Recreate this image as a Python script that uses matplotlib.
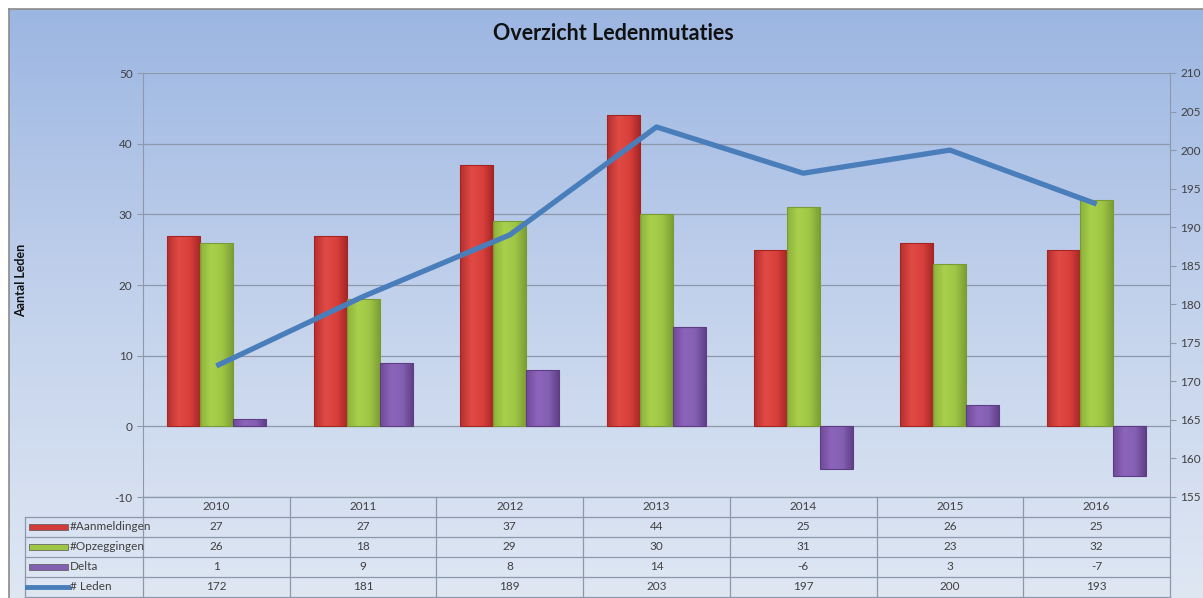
import numpy as np
import matplotlib.pyplot as plt
from matplotlib.colors import LinearSegmentedColormap
from matplotlib.patches import Rectangle
from matplotlib.lines import Line2D
from matplotlib.transforms import blended_transform_factory

plt.rcParams['font.family'] = ['Lato', 'DejaVu Sans']
plt.rcParams['axes.unicode_minus'] = False

years = ['2010', '2011', '2012', '2013', '2014', '2015', '2016']
aanmeldingen = [27, 27, 37, 44, 25, 26, 25]
opzeggingen = [26, 18, 29, 30, 31, 23, 32]
delta = [1, 9, 8, 14, -6, 3, -7]
leden = [172, 181, 189, 203, 197, 200, 193]

series_names = ['#Aanmeldingen', '#Opzeggingen', 'Delta', '# Leden']

W, H = 1203, 598
def fx(px):
    return px / W
def fy(py):
    return 1 - py / H

fig = plt.figure(figsize=(W / 100, H / 100), dpi=100)
fig.patch.set_facecolor('white')

# gradient background of the chart area
bg = fig.add_axes([fx(9), 0, 1 - fx(9), fy(9)])
grad = np.linspace(0, 1, 256).reshape(-1, 1)
bg_cmap = LinearSegmentedColormap.from_list('bg', ['#9cb6e2', '#c3d2ec', '#dfe7f3'])
bg.imshow(grad, aspect='auto', cmap=bg_cmap, extent=(0, 1, 0, 1), origin='upper')
bg.set_axis_off()
fig.add_artist(Line2D([fx(9), fx(9)], [0, fy(8.5)], color='#8a8a8a', lw=1.2))
fig.add_artist(Line2D([fx(9), 1], [fy(8.5), fy(8.5)], color='#8a8a8a', lw=1.2))

ax = fig.add_axes([fx(143), fy(497), fx(1170) - fx(143), fy(73) - fy(497)])
ax.set_facecolor('none')
x = np.arange(len(years))
width = 0.225

bar_styles = [
    (aanmeldingen, -width, ['#b52f2f', '#e04a45', '#d9403c', '#a52525']),
    (opzeggingen, 0, ['#8cb23c', '#aad14d', '#9fc545', '#7a9c34']),
    (delta, width, ['#6f4a98', '#8d64bb', '#8460b2', '#5f3d85']),
]

for vals, off, cols in bar_styles:
    cmap = LinearSegmentedColormap.from_list('b', cols)
    bars = ax.bar(x + off, vals, width, color='none', edgecolor=cols[-1], lw=0.8, zorder=3)
    for b in bars:
        x0, y0 = b.get_x(), b.get_y()
        w, h = b.get_width(), b.get_height()
        im = ax.imshow(np.linspace(0, 1, 64).reshape(1, -1), cmap=cmap, aspect='auto',
                       extent=(x0, x0 + w, min(y0, y0 + h), max(y0, y0 + h)), zorder=2)
        im.set_clip_path(b)

ax.set_xlim(-0.5, len(years) - 0.5)
ax.set_ylim(-10, 50)
ax.set_yticks(np.arange(-10, 51, 10))
ax.set_xticks([])
ax.grid(axis='y', color='#8d99ab', lw=0.9, zorder=0)
ax.set_axisbelow(True)
for s in ['top', 'right', 'bottom']:
    ax.spines[s].set_visible(False)
ax.spines['left'].set_color('#8d99ab')
ax.tick_params(axis='y', colors='#8d99ab', labelcolor='#404040', labelsize=8.5, length=4)

ax2 = ax.twinx()
ax2.plot(x, leden, color='#4a7ebb', lw=3.8, solid_capstyle='butt', zorder=5)
ax2.set_ylim(155, 210)
ax2.set_yticks(np.arange(155, 211, 5))
for s in ['top', 'left', 'bottom']:
    ax2.spines[s].set_visible(False)
ax2.spines['right'].set_color('#8d99ab')
ax2.tick_params(axis='y', colors='#8d99ab', labelcolor='#404040', labelsize=8.5, length=4)

fig.text(fx(613), fy(33), 'Overzicht Ledenmutaties', ha='center', va='center',
         fontsize=15.5, fontweight='bold', color='#111111')
fig.text(fx(21), fy(280), 'Aantal Leden', rotation=90, ha='center', va='center',
         fontsize=9, fontweight='bold', color='#111111')

# data table under the axis
tr = blended_transform_factory(ax.transData, fig.transFigure)
grid_c = '#8d99ab'
row_lines = [497, 516.5, 537, 557, 577, 597]
for i, py in enumerate(row_lines):
    x_start = fx(143) if i == 0 else fx(25)
    fig.add_artist(Line2D([x_start, fx(1170)], [fy(py), fy(py)], color=grid_c, lw=0.9))
for k in range(len(years) + 1):
    xb = k - 0.5
    ax.plot([xb, xb], [fy(497), fy(598)], transform=tr, color=grid_c, lw=0.9, clip_on=False)
fig.add_artist(Line2D([fx(25), fx(25)], [fy(516.5), fy(597)], color=grid_c, lw=0.9))

row_centers = [507, 527, 547, 567, 587]
table_rows = [years, aanmeldingen, opzeggingen, delta, leden]
for py, row in zip(row_centers, table_rows):
    for xi, v in zip(x, row):
        ax.text(xi, fy(py), str(v), transform=tr, ha='center', va='center',
                fontsize=8.5, color='#404040', clip_on=False)

key_cols = ['#d23c3a', '#9fc545', '#8460b2']
for py, name, c in zip(row_centers[1:4], series_names[:3], key_cols):
    fig.add_artist(Rectangle((fx(29), fy(py + 3)), fx(68) - fx(29), fy(py - 3) - fy(py + 3),
                             facecolor=c, edgecolor='#555555', lw=0.5))
    fig.text(fx(70), fy(py), name, ha='left', va='center', fontsize=8.5, color='#404040')
fig.add_artist(Line2D([fx(27), fx(68)], [fy(587), fy(587)], color='#4a7ebb', lw=3.5))
fig.text(fx(70), fy(587), series_names[3], ha='left', va='center', fontsize=8.5, color='#404040')

fig.savefig('out.png', dpi=100)
